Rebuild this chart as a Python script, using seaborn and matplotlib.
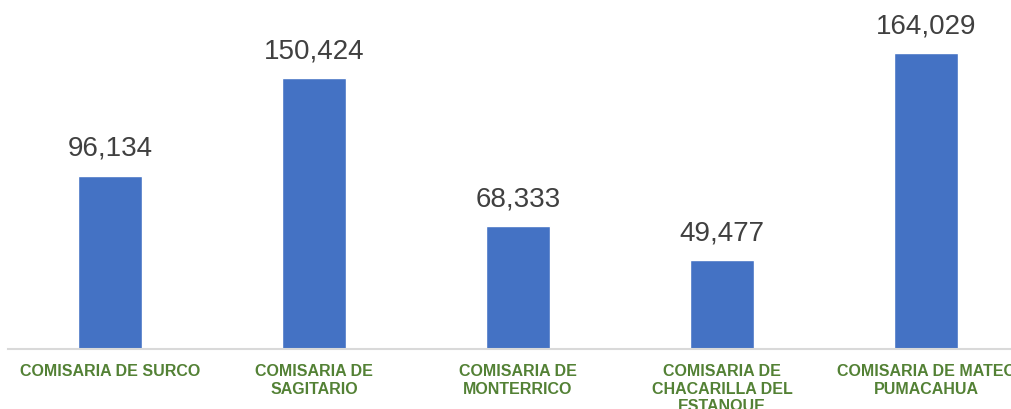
import matplotlib
matplotlib.use('Agg')
import matplotlib.pyplot as plt
import seaborn as sns
import pandas as pd

# ── Datos ─────────────────────────────────────────────────────────────────────
comisarias = [
    'COMISARIA DE SURCO',
    'COMISARIA DE\nSAGITARIO',
    'COMISARIA DE\nMONTERRICO',
    'COMISARIA DE\nCHACARILLA DEL\nESTANQUE',
    'COMISARIA DE MATEO\nPUMACAHUA',
]
poblacion = [96134, 150424, 68333, 49477, 164029]

BAR_COLOR   = '#4472C4'
LABEL_COLOR = '#538135'
VALUE_COLOR = '#404040'
AXIS_COLOR  = '#D9D9D9'

sns.set_style('white')
plt.rcParams['font.family'] = ['Liberation Sans', 'DejaVu Sans']

df = pd.DataFrame({'comisaria': comisarias, 'poblacion': poblacion})

fig = plt.figure(figsize=(10.11, 4.10), dpi=100)
# el eje se extiende más allá del borde derecho (como en la imagen original)
ax = fig.add_axes([8 / 1011, 60 / 410, 1020 / 1011, 350 / 410])

sns.barplot(data=df, x='comisaria', y='poblacion', color=BAR_COLOR,
            saturation=1, width=0.31, ax=ax)

ax.bar_label(ax.containers[0], labels=[f'{v:,}' for v in poblacion],
             padding=10.5, fontsize=20, color=VALUE_COLOR)

ax.set_xlim(-0.5, len(comisarias) - 0.5)
ax.set_ylim(0, 194000)

# marcas entre categorías, etiquetas centradas
n = len(comisarias)
ax.set_xticks([i - 0.5 for i in range(n + 1)])
ax.set_xticklabels([])
ax.set_xticks(range(n), minor=True)
ax.set_xticklabels(comisarias, minor=True, fontsize=11.5, fontweight='bold',
                   color=LABEL_COLOR, linespacing=1.22)
ax.tick_params(axis='x', which='major', length=6, width=1.2, color=AXIS_COLOR,
               direction='out')
ax.tick_params(axis='x', which='minor', length=0, pad=10)
ax.set_yticks([])
ax.set_xlabel('')
ax.set_ylabel('')

for side in ['left', 'right', 'top']:
    ax.spines[side].set_visible(False)
ax.spines['bottom'].set_color(AXIS_COLOR)
ax.spines['bottom'].set_linewidth(1.5)

fig.savefig('out.png', dpi=100)
